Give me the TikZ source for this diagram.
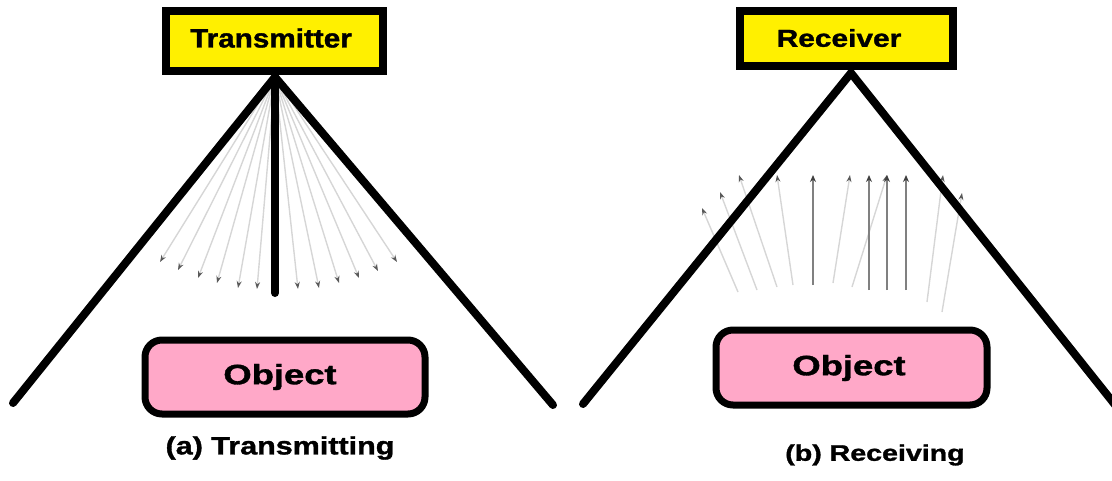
\documentclass[tikz,border=0pt]{standalone}
\usepackage{fontspec}
\setmainfont{Liberation Sans}
\newfontfamily\heavyfont[FakeBold=1.2]{Liberation Sans Bold}
\usetikzlibrary{arrows.meta}
\definecolor{boxyellow}{RGB}{255,240,0}
\definecolor{objpink}{RGB}{255,168,200}
\tikzset{
  unitbox/.style={draw=black, line width=8pt, fill=boxyellow, inner sep=0pt},
  objbox/.style={draw=black, line width=7pt, fill=objpink, rounded corners=17pt, inner sep=0pt},
  leg/.style={draw=black, line width=8pt, line cap=round},
  ray/.style={draw=black!16, line width=1.4pt, -{Stealth[length=7pt,width=5pt,color=black!65]}},
  strongray/.style={draw=black!50, line width=2.6pt, -{Stealth[length=7pt,width=6pt,color=black!75]}},
  lbl/.style={font=\heavyfont, inner sep=0pt},
}
\newcommand{\wide}[2]{\scalebox{#1}[1]{#2}}
\begin{document}
\begin{tikzpicture}[x=1pt,y=-1pt]
\useasboundingbox (0,0) rectangle (1112,480);

% ---------- (a) transmitting ----------
\coordinate (ta) at (275,77);
\coordinate (tl) at (13,403);
\coordinate (tr) at (553,405);
\coordinate (tc) at (275,293);
\foreach \n/\x/\y in {1/160/262,2/178/270,3/198/278,4/217/283,5/238/288,6/257/289,
                       7/298/289,8/319/288,9/339/283,10/359/278,11/378/271,12/397/262}{
  \coordinate (tt\n) at (\x,\y);
  \draw[ray] (ta) -- (tt\n);
}
\draw[leg] (ta) -- (tl);
\draw[leg] (ta) -- (tr);
\draw[leg] (ta) -- (tc);
\node[unitbox, minimum width=217pt, minimum height=60pt] (tx) at (274.5,41) {};
\node[lbl] (txl) at (271,38) {\fontsize{26.5}{30}\selectfont\wide{1.12}{Transmitter}};

\node[objbox, minimum width=280pt, minimum height=74pt] (obja) at (285,377) {};
\node[lbl] (objal) at (280,377) {\fontsize{28}{32}\selectfont\wide{1.3}{Object}};
\node[lbl] (capa) at (280,448) {\fontsize{25}{28}\selectfont\wide{1.22}{(a) Transmitting}};

% ---------- (b) receiving ----------
\foreach \n/\xa/\ya/\xb/\yb/\s in {1/738/292/702/208/ray, 2/757/290/720/192/ray,
    3/777/287/739/175/ray, 4/793/285/777/175/ray, 5/813/285/813/175/strongray,
    6/833/283/850/175/ray, 7/852/287/887/175/ray, 8/869/290/869/175/strongray,
    9/887/290/887/175/strongray, 10/906/290/906/175/strongray,
    11/927/302/943/175/ray, 12/942/312/962/193/ray}{
  \coordinate (rs\n) at (\xa,\ya);
  \coordinate (re\n) at (\xb,\yb);
  \draw[\s] (rs\n) -- (re\n);
}
\coordinate (ra) at (851,73);
\coordinate (rl) at (583,404);
\coordinate (rr) at (1116,406);
\draw[leg] (ra) -- (rl);
\draw[leg] (ra) -- (rr);
\node[unitbox, minimum width=213pt, minimum height=55pt] (rx) at (846.5,38.5) {};
\node[lbl] (rxl) at (839,38) {\fontsize{24.5}{28}\selectfont\wide{1.22}{Receiver}};

\node[objbox, minimum width=271pt, minimum height=75pt] (objb) at (851.5,367.5) {};
\node[lbl] (objbl) at (849,368) {\fontsize{28}{32}\selectfont\wide{1.3}{Object}};
\node[lbl] (capb) at (875,455) {\fontsize{22.5}{26}\selectfont\wide{1.27}{(b) Receiving}};
\end{tikzpicture}
\end{document}
